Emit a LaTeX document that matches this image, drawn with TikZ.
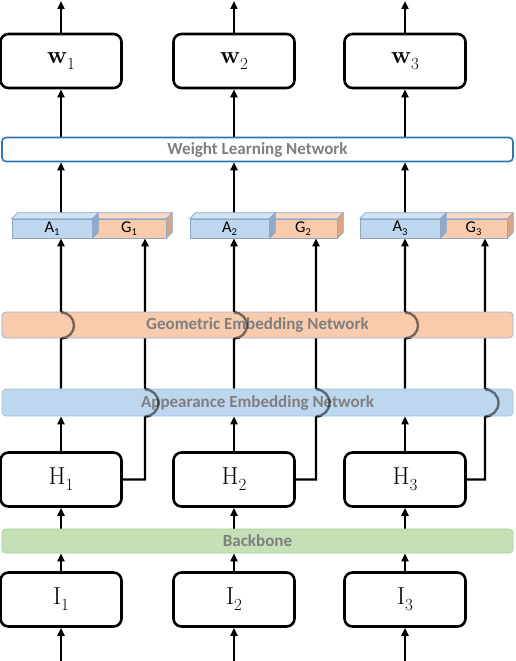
\documentclass[tikz,border=0pt]{standalone}
\usepackage{fontspec}
\newfontfamily\calib{Carlito}
\usetikzlibrary{arrows.meta}
\definecolor{txtgray}{HTML}{7F7F7F}
\definecolor{wlnblue}{HTML}{2E75B6}
\definecolor{genfill}{HTML}{F8CBAD}
\definecolor{gendraw}{HTML}{9DB3D6}
\definecolor{aenfill}{HTML}{BDD7EE}
\definecolor{aendraw}{HTML}{9DC3E6}
\definecolor{bbfill}{HTML}{C5E0B4}
\definecolor{bbdraw}{HTML}{9ED39A}
\definecolor{afront}{HTML}{BDD7EE}
\definecolor{atop}{HTML}{D2E3F4}
\definecolor{aside}{HTML}{8FAACC}
\definecolor{gfront}{HTML}{F8CBAD}
\definecolor{gtop}{HTML}{FAD9C3}
\definecolor{gside}{HTML}{D5A68A}
\definecolor{cubeedge}{HTML}{8FA5C8}
\pgfdeclarelayer{bg}
\pgfsetlayers{bg,main}
\newcommand\labsub[2]{#1\raisebox{-0.45ex}{\fontsize{10.5}{10.5}\selectfont #2}}
\newcommand\boxsub[2]{#1\raisebox{-0.55ex}{\fontsize{17}{17}\selectfont #2}}
\begin{document}
\begin{tikzpicture}[x=1pt,y=-1pt,
  box/.style={draw, fill=white, line width=2.6pt, rounded corners=8pt, minimum width=121pt, minimum height=54pt, inner sep=0pt, font=\fontsize{24.5}{28}\selectfont},
  bar/.style={rounded corners=4pt, minimum width=511pt, inner sep=0pt, font=\calib\bfseries\fontsize{17}{20}\selectfont, text=txtgray},
  face/.style={draw=cubeedge, line width=0.7pt, minimum height=19pt, inner sep=0pt, font=\calib\fontsize{16.5}{18}\selectfont},
  edge/.style={draw=cubeedge, line width=0.7pt, line join=round},
  arr/.style={line width=2.4pt, -{Triangle[width=7pt,length=8pt]}},
  hop/.style={line width=2.4pt, draw opacity=0.5}]
\useasboundingbox (0,0) rectangle (515,661);

% bars
\node[bar, draw=wlnblue, line width=1.6pt, fill=white, minimum height=24pt] (wln) at (257.5,149.5) {Weight Learning Network};
\node[bar, draw=gendraw, line width=0.8pt, fill=genfill, minimum height=26pt] (gen) at (257.5,325) {Geometric Embedding Network};
\node[bar, draw=aendraw, line width=0.8pt, fill=aenfill, minimum height=27pt] (aen) at (257.5,402.5) {Appearance Embedding Network};
\node[bar, draw=bbdraw, line width=0.8pt, fill=bbfill, minimum height=24pt] (bb) at (257.5,541) {Backbone};

% boxes
\foreach \i/\x in {1/61,2/234,3/405} {
  \node[box] (w\i) at (\x,61) {\boxsub{\textbf{w}}{\i}};
  \node[box] (h\i) at (\x,479.5) {\boxsub{H}{\i}};
  \node[box] (i\i) at (\x,599.5) {\boxsub{I}{\i}};
  \coordinate (t\i) at (\x,1);
  \coordinate (b\i) at (\x,661);
}
\coordinate (gc1) at (145,0);
\coordinate (gc2) at (316,0);
\coordinate (gc3) at (485,0);

% cuboids
\foreach \i/\ax/\aw/\gx/\gw in {1/52/80/129/74, 2/229.5/79/303/68, 3/400/80/473.5/67} {
  \node[face, fill=gfront, minimum width=\gw*1pt] (g\i) at (\gx,228.5) {\labsub{G}{\i}};
  \draw[edge, fill=gtop] (g\i.north west) -- ++(6pt,6pt) -- ([shift={(6pt,6pt)}]g\i.north east) -- (g\i.north east) -- cycle;
  \draw[edge, fill=gside] (g\i.north east) -- ++(6pt,6pt) -- ([shift={(6pt,6pt)}]g\i.south east) -- (g\i.south east) -- cycle;
  \node[face, fill=afront, minimum width=\aw*1pt] (a\i) at (\ax,228.5) {\labsub{A}{\i}};
  \draw[edge, fill=atop] (a\i.north west) -- ++(6pt,6pt) -- ([shift={(6pt,6pt)}]a\i.north east) -- (a\i.north east) -- cycle;
  \draw[edge, fill=aside] (a\i.north east) -- ++(6pt,6pt) -- ([shift={(6pt,6pt)}]a\i.south east) -- (a\i.south east) -- cycle;
  \coordinate (at\i) at ([yshift=6pt]a\i.north);
}

% connectors
\begin{pgfonlayer}{bg}
\foreach \i in {1,2,3} {
  \draw[arr] (w\i.north) -- (t\i);
  \draw[arr] (wln.north -| w\i) -- (w\i.south);
  \draw[arr] (at\i -| w\i) -- (wln.south -| w\i);
  \draw[arr] (aen.north -| h\i) -- (gen.south -| h\i) arc[start angle=-90, end angle=90, radius=13pt] -- (a\i.south -| h\i);
  \draw[arr] (h\i.east) -| (aen.south -| gc\i) arc[start angle=-90, end angle=90, radius=13.5pt] -- (gen.south -| gc\i) -- (g\i.south -| gc\i);
  \draw[arr] (h\i.north) -- (aen.south -| h\i);
  \draw[arr] (bb.north -| h\i) -- (h\i.south);
  \draw[arr] (i\i.north) -- (bb.south -| i\i);
  \draw[arr] (b\i) -- (i\i.south);
}
\end{pgfonlayer}

% hops seen through the bars
\foreach \i in {1,2,3} {
  \draw[hop] (gen.south -| h\i) arc[start angle=-90, end angle=90, radius=13pt];
  \draw[hop] (aen.south -| gc\i) arc[start angle=-90, end angle=90, radius=13.5pt];
}
\end{tikzpicture}
\end{document}
